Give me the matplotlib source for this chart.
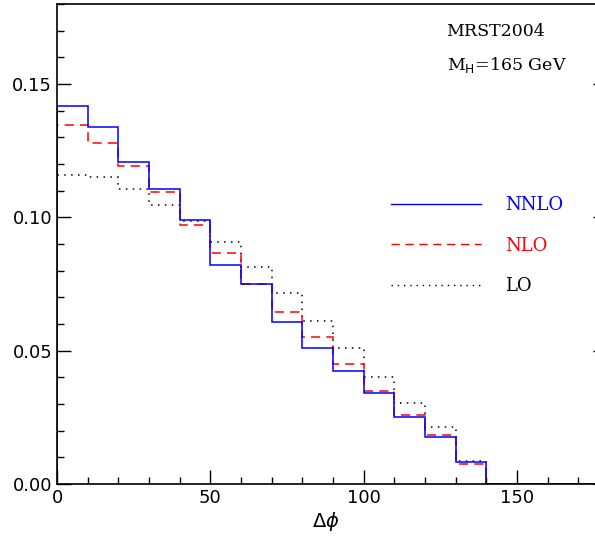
import numpy as np
import matplotlib.pyplot as plt
from matplotlib.ticker import MultipleLocator

# bins in delta phi (degrees)
edges = np.arange(0, 190, 10)

# NNLO, NLO, LO distributions
nnlo = [0.1417, 0.1339, 0.1207, 0.1106, 0.0990, 0.0821, 0.0750, 0.0607, 0.0510,
        0.0424, 0.0341, 0.0251, 0.0176, 0.0082, 0.0, 0.0, 0.0, 0.0]
nlo = [0.1346, 0.1279, 0.1192, 0.1095, 0.0971, 0.0866, 0.0750, 0.0645, 0.0551,
       0.0450, 0.0349, 0.0259, 0.0184, 0.0075, 0.0, 0.0, 0.0, 0.0]
lo = [0.1157, 0.1150, 0.1106, 0.1046, 0.0986, 0.0907, 0.0814, 0.0716, 0.0611,
      0.0510, 0.0401, 0.0304, 0.0214, 0.0086, 0.0, 0.0, 0.0, 0.0]

fig = plt.figure(figsize=(5.95, 5.39), dpi=100)
ax = fig.add_axes([0.0958, 0.102, 0.9042, 0.8906])

ax.stairs(lo, edges, baseline=0, color='black', lw=1.1, ls=(0, (1, 3.5)), label='LO')
ax.stairs(nlo, edges, baseline=0, color='red', lw=1.1, ls=(0, (6, 4)), label='NLO')
ax.stairs(nnlo, edges, baseline=0, color='blue', lw=1.1, label='NNLO')

ax.set_xlim(0, 175.4)
ax.set_ylim(0, 0.18)
ax.xaxis.set_major_locator(MultipleLocator(50))
ax.xaxis.set_minor_locator(MultipleLocator(10))
ax.yaxis.set_major_locator(MultipleLocator(0.05))
ax.yaxis.set_minor_locator(MultipleLocator(0.01))
ax.yaxis.set_major_formatter(plt.FormatStrFormatter('%.2f'))
ax.tick_params(which='both', direction='in', top=False, labelsize=13, width=1)
ax.tick_params(which='major', length=10)
ax.tick_params(which='minor', length=5)
# the frame's right side lies just past the image edge: only tick stubs show
ax.tick_params(axis='y', which='major', right=True)
ax.spines['right'].set_visible(False)
for s in ['left', 'top', 'bottom']:
    ax.spines[s].set_linewidth(1.2)
for t in ax.yaxis.get_major_ticks():
    t.tick2line.set_markersize(1.5)

ax.set_xlabel(r'$\Delta\phi$', fontsize=14, labelpad=2)

ax.text(0.724, 0.942, 'MRST2004', transform=ax.transAxes, fontsize=12.5,
        family='DejaVu Serif', va='center')
ax.text(0.724, 0.873, r'M$_\mathrm{H}$=165 GeV', transform=ax.transAxes, fontsize=12.5,
        family='DejaVu Serif', va='center')

handles, labels = ax.get_legend_handles_labels()
leg = ax.legend(handles[::-1], labels[::-1], loc='upper left', bbox_to_anchor=(0.591, 0.634),
                frameon=False, handlelength=5.0, handletextpad=1.3, labelspacing=1.25,
                prop={'family': 'DejaVu Serif', 'size': 13},
                labelcolor=['blue', 'red', 'black'])
for line in leg.get_lines():
    line.set_linewidth(1.0)

fig.savefig('out.png', dpi=100)
